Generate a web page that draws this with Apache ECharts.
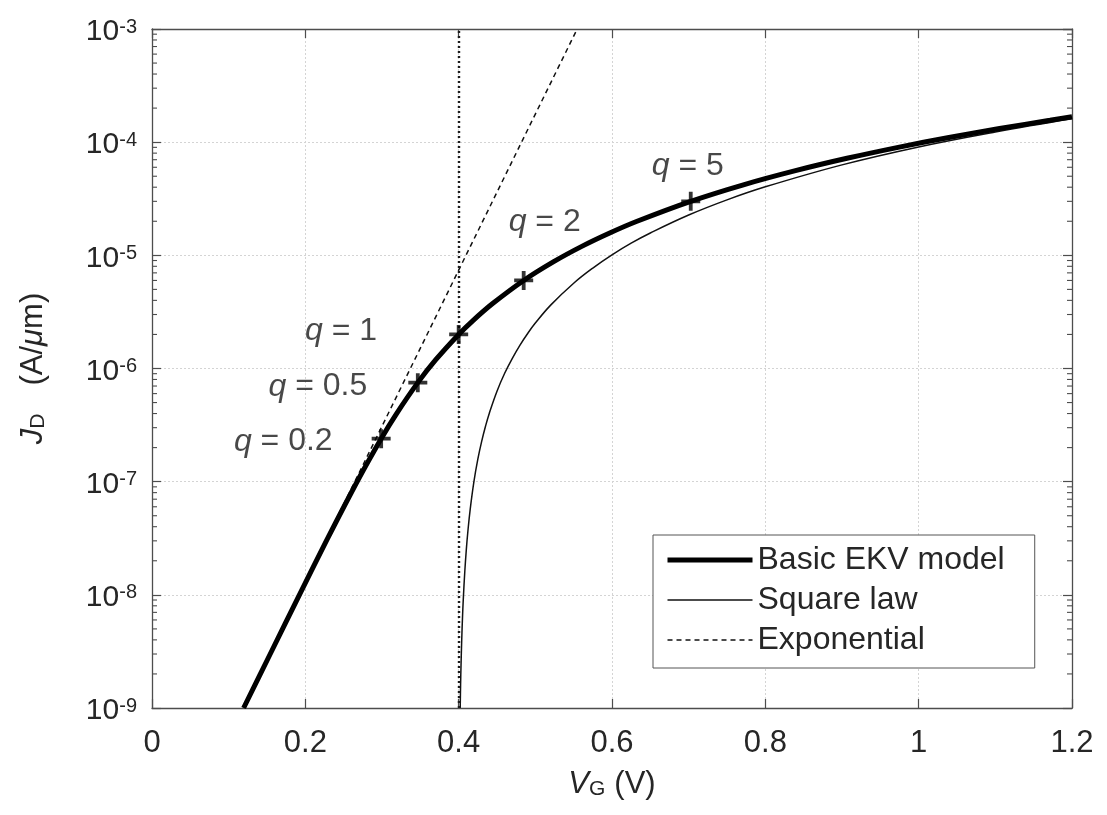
<!DOCTYPE html>
<html><head><meta charset="utf-8">
<script src="https://cdn.jsdelivr.net/npm/echarts@6/dist/echarts.min.js"></script>
<style>html,body{margin:0;padding:0;background:#fff}#c{width:1107px;height:815px}</style>
</head><body><div id="c"></div>
<script>
// ---- data ----
const vgEKV = [0.1195, 0.1542, 0.1926, 0.2284, 0.2708, 0.2989, 0.318, 0.3467, 0.3699, 0.4, 0.4183, 0.4443, 0.4848, 0.5234, 0.5606, 0.597, 0.6327, 0.7027, 0.7714, 0.8393, 0.9065, 0.9732, 1.0395, 1.1055, 1.1713, 1.2];
const jdEKV = [1.0e-9, 3.0e-9, 1.01e-8, 3.09e-8, 1.1e-7, 2.4e-7, 3.9e-7, 7.5e-7, 1.19e-6, 2.0e-6, 2.64e-6, 3.75e-6, 6.0e-6, 8.75e-6, 1.2e-5, 1.575e-5, 2.0e-5, 3.0e-5, 4.2e-5, 5.6e-5, 7.2e-5, 9.0e-5, 1.1e-4, 1.32e-4, 1.56e-4, 1.68e-4];

const vgSQ = [0.402, 0.4025, 0.403, 0.404, 0.405, 0.406, 0.408, 0.41, 0.412, 0.415, 0.42, 0.425, 0.43, 0.435, 0.44, 0.45, 0.46, 0.47, 0.48, 0.49, 0.5, 0.52, 0.55, 0.575, 0.6, 0.625, 0.65, 0.7, 0.75, 0.8, 0.9, 1.0, 1.1, 1.2];
const jdSQ = [1.0e-9, 1.58e-9, 2.27e-9, 4.03e-9, 6.3e-9, 9.07e-9, 1.61e-8, 2.52e-8, 3.63e-8, 5.67e-8, 1.01e-7, 1.58e-7, 2.27e-7, 3.09e-7, 4.03e-7, 6.3e-7, 9.07e-7, 1.23e-6, 1.61e-6, 2.04e-6, 2.52e-6, 3.63e-6, 5.67e-6, 7.72e-6, 1.01e-5, 1.28e-5, 1.575e-5, 2.27e-5, 3.09e-5, 4.03e-5, 6.3e-5, 9.07e-5, 1.23e-4, 1.61e-4];

const vgExp = [0.12, 0.2, 0.3, 0.4, 0.5, 0.5546];
const jdExp = [1.02e-9, 1.29e-8, 3.09e-7, 7.39e-6, 1.77e-4, 1.0e-3];

const qLabels = ['0.2', '0.5', '1', '2', '5'];
const vgQ = [0.2989, 0.3467, 0.4, 0.4848, 0.7027];
const jdQ = [2.4e-7, 7.5e-7, 2.0e-6, 6.0e-6, 3.0e-5];

const vThreshold = 0.4;
const xTicks = ['0', '0.2', '0.4', '0.6', '0.8', '1', '1.2'];
const yDecades = [-9, -8, -7, -6, -5, -4, -3];
const seriesNames = ['Basic EKV model', 'Square law', 'Exponential'];

// ---- build ----
const FONT = "'Liberation Sans', Arial, Helvetica, sans-serif";
const TXT = '#262626';
const AX = '#4d4d4d';
const zip = (a, b) => a.map((v, i) => [v, b[i]]);

const minorTicks = [];
yDecades.slice(0, -1).forEach(e => [2, 3, 4, 5, 6, 7, 8, 9].forEach(m => minorTicks.push([0, m * Math.pow(10, e)])));

const labelCfg = [
  { position: 'left', distance: 39, offset: [0, 3] },
  { position: 'left', distance: 41, offset: [0, 4] },
  { position: 'left', distance: 72, offset: [0, -3] },
  { position: 'top', distance: 33, offset: [21, 0] },
  { position: 'top', distance: 10, offset: [-3, 0] }
];

const markerData = vgQ.map((v, i) => ({
  value: [v, jdQ[i]],
  label: Object.assign({ show: true, formatter: '{i|q}{n| = ' + qLabels[i] + '}' }, labelCfg[i])
}));

const gridSplit = { show: true, lineStyle: { color: '#d4d4d4', type: [2, 2], width: 1 } };
const lineAx = { show: true, onZero: false, lineStyle: { color: AX, width: 1.3 } };

const chart = echarts.init(document.getElementById('c'), null, { renderer: 'canvas' });
chart.setOption({
  animation: false,
  backgroundColor: '#fff',
  textStyle: { fontFamily: FONT },
  grid: { left: 152, right: 35, top: 29, bottom: 107, containLabel: false },
  legend: {
    orient: 'vertical', left: 653, top: 535,
    padding: [9, 30, 12, 12],
    itemWidth: 85, itemHeight: 14, itemGap: 8,
    borderColor: '#555', borderWidth: 1, borderRadius: 0,
    backgroundColor: '#fff',
    itemStyle: { opacity: 0 },
    textStyle: { fontSize: 32, color: TXT, fontFamily: FONT },
    data: [
      { name: seriesNames[0], lineStyle: { width: 5, color: '#000' } },
      { name: seriesNames[1], lineStyle: { width: 1.5, color: '#111' } },
      { name: seriesNames[2], lineStyle: { width: 1.5, color: '#111', type: [5, 4] } }
    ]
  },
  xAxis: [{
    type: 'value', min: 0, max: 1.2, interval: 0.2, position: 'bottom',
    axisLine: lineAx,
    axisTick: { show: true, inside: true, length: 9, lineStyle: { color: AX, width: 1.2 } },
    axisLabel: { margin: 20, fontSize: 31, color: TXT, fontFamily: FONT, formatter: (v) => xTicks[Math.round(v / 0.2)] },
    splitLine: gridSplit,
    name: '{i|V}{sub|G}{sp| }{n|(V)}', nameLocation: 'middle', nameGap: 61,
    nameTextStyle: {
      color: TXT,
      rich: {
        i: { fontSize: 31, fontStyle: 'italic', fontFamily: FONT, color: TXT, lineHeight: 31, padding: [0, 0, 8, 0], verticalAlign: 'top' },
        sub: { fontSize: 21, fontFamily: FONT, color: TXT, lineHeight: 21, verticalAlign: 'bottom' },
        sp: { width: 9, fontSize: 20, lineHeight: 20 },
        n: { fontSize: 31, fontFamily: FONT, color: TXT, lineHeight: 31, padding: [0, 0, 8, 0], verticalAlign: 'top' }
      }
    }
  }, {
    type: 'value', min: 0, max: 1.2, interval: 0.2, position: 'top',
    axisLine: lineAx,
    axisTick: { show: true, inside: true, length: 9, lineStyle: { color: AX, width: 1.2 } },
    axisLabel: { show: false }, splitLine: { show: false }
  }],
  yAxis: [{
    type: 'log', logBase: 10, min: 1e-9, max: 1e-3, splitNumber: 6, position: 'left',
    axisLine: lineAx,
    axisTick: { show: true, inside: true, length: 9, lineStyle: { color: AX, width: 1.2 } },
    axisLabel: {
      margin: 15, color: TXT, padding: [6, 0, 0, 0],
      formatter: (v) => '{b|10}{s|' + Math.round(Math.log10(v)) + '}',
      rich: {
        b: { fontSize: 30, fontFamily: FONT, color: TXT, lineHeight: 30, padding: [6, 0, 0, 0], verticalAlign: 'bottom' },
        s: { fontSize: 20, fontFamily: FONT, color: TXT, lineHeight: 20, verticalAlign: 'top' }
      }
    },
    splitLine: gridSplit,
    name: '{i|J}{sub|D}{sp| }{n|(A/}{i|μ}{n|m)}', nameLocation: 'middle', nameGap: 103, nameRotate: 90,
    nameTextStyle: {
      color: TXT,
      rich: {
        i: { fontSize: 31, fontStyle: 'italic', fontFamily: FONT, color: TXT, lineHeight: 31, padding: [0, 0, 7, 0], verticalAlign: 'top' },
        sub: { fontSize: 21, fontFamily: FONT, color: TXT, lineHeight: 21, verticalAlign: 'bottom' },
        sp: { width: 28, fontSize: 20, lineHeight: 20 },
        n: { fontSize: 31, fontFamily: FONT, color: TXT, lineHeight: 31, padding: [0, 0, 7, 0], verticalAlign: 'top' }
      }
    }
  }, {
    type: 'log', logBase: 10, min: 1e-9, max: 1e-3, splitNumber: 6, position: 'right',
    axisLine: lineAx,
    axisTick: { show: true, inside: true, length: 9, lineStyle: { color: AX, width: 1.2 } },
    axisLabel: { show: false }, splitLine: { show: false }
  }],
  series: [
    {
      type: 'custom', name: 'minorTicks', coordinateSystem: 'cartesian2d', silent: true, z: 6,
      clip: false, data: minorTicks, encode: { x: 0, y: 1 },
      renderItem: (params, api) => {
        const cs = params.coordSys;
        const y = api.coord([0, api.value(1)])[1];
        const st = { stroke: AX, lineWidth: 1.1 };
        return { type: 'group', children: [
          { type: 'line', shape: { x1: cs.x, y1: y, x2: cs.x + 5, y2: y }, style: st },
          { type: 'line', shape: { x1: cs.x + cs.width, y1: y, x2: cs.x + cs.width - 5, y2: y }, style: st }
        ] };
      }
    },
    {
      type: 'line', name: seriesNames[1], data: zip(vgSQ, jdSQ), showSymbol: false, symbol: 'none',
      smooth: 0.4, lineStyle: { color: '#111', width: 1.5 }, itemStyle: { color: '#111' }, z: 3,
      markLine: {
        silent: true, symbol: 'none', label: { show: false },
        lineStyle: { color: '#1a1a1a', width: 2.4, type: [2, 3] },
        data: [{ xAxis: vThreshold }]
      }
    },
    {
      type: 'line', name: seriesNames[2], data: zip(vgExp, jdExp), showSymbol: false, symbol: 'none',
      lineStyle: { color: '#111', width: 1.5, type: [5, 4] }, itemStyle: { color: '#111' }, z: 3
    },
    {
      type: 'line', name: seriesNames[0], data: zip(vgEKV, jdEKV), showSymbol: false, symbol: 'none',
      smooth: 0.3, lineStyle: { color: '#000', width: 5 }, itemStyle: { color: '#000' }, z: 4
    },
    {
      type: 'scatter', name: 'q markers', data: markerData,
      symbol: 'path://M4,0H6V4H10V6H6V10H4V6H0V4H4Z', symbolSize: 19,
      itemStyle: { color: '#000' }, z: 5,
      label: {
        color: '#1a1a1a',
        rich: {
          i: { fontSize: 32, fontStyle: 'italic', fontFamily: FONT, color: '#1a1a1a' },
          n: { fontSize: 32, fontFamily: FONT, color: '#1a1a1a' }
        }
      }
    }
  ]
});
</script></body></html>
